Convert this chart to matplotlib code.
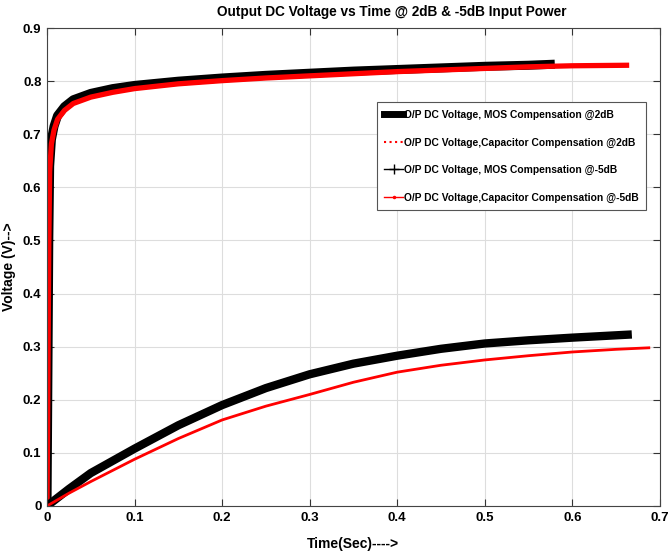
import matplotlib.pyplot as plt
from matplotlib.lines import Line2D

plt.rcParams['font.family'] = ['Liberation Sans', 'DejaVu Sans']
plt.rcParams['font.weight'] = 'bold'

# 2dB input power (s, V)
t_mos_2db = [0, 0.001, 0.002, 0.003, 0.005, 0.008, 0.012, 0.02, 0.03, 0.05,
             0.075, 0.1, 0.15, 0.2, 0.25, 0.3, 0.35, 0.4, 0.45, 0.5, 0.55, 0.58]
v_mos_2db = [0, 0.25, 0.5, 0.64, 0.69, 0.715, 0.735, 0.752, 0.765, 0.777,
             0.786, 0.792, 0.800, 0.806, 0.811, 0.815, 0.819, 0.822, 0.825, 0.828, 0.830, 0.832]
t_cap_2db = [0, 0.001, 0.002, 0.003, 0.005, 0.008, 0.012, 0.02, 0.03, 0.05,
             0.075, 0.1, 0.15, 0.2, 0.25, 0.3, 0.35, 0.4, 0.45, 0.5, 0.55, 0.6, 0.665]
v_cap_2db = [0, 0.24, 0.49, 0.63, 0.682, 0.708, 0.728, 0.745, 0.758, 0.770,
             0.779, 0.786, 0.795, 0.801, 0.806, 0.810, 0.814, 0.818, 0.821, 0.824, 0.827, 0.829, 0.830]

# -5dB input power
t_mos_5db = [0, 0.025, 0.05, 0.1, 0.15, 0.2, 0.25, 0.3, 0.35, 0.4, 0.45, 0.5,
             0.55, 0.6, 0.668]
v_mos_5db = [0, 0.032, 0.062, 0.108, 0.152, 0.19, 0.222, 0.248, 0.268, 0.283,
             0.296, 0.306, 0.312, 0.317, 0.323]
t_cap_5db = [0, 0.025, 0.05, 0.1, 0.15, 0.2, 0.25, 0.3, 0.35, 0.4, 0.45, 0.5,
             0.55, 0.6, 0.65, 0.689]
v_cap_5db = [0, 0.024, 0.046, 0.088, 0.127, 0.162, 0.188, 0.21, 0.233, 0.252,
             0.265, 0.275, 0.283, 0.29, 0.295, 0.298]

fig = plt.figure(figsize=(6.69, 5.57), dpi=100)
ax = fig.add_axes([0.0703, 0.0916, 0.916, 0.858])

ax.plot(t_mos_2db, v_mos_2db, color="black", lw=6.5, solid_capstyle="butt")
ax.plot(t_cap_2db, v_cap_2db, color="red", lw=3.8, solid_capstyle="butt")
ax.plot(t_mos_5db, v_mos_5db, color="black", lw=6, solid_capstyle="butt")
ax.plot(t_cap_5db, v_cap_5db, color="red", lw=2, solid_capstyle="butt")

ax.set_xlim(0, 0.7)
ax.set_ylim(0, 0.9)
ax.set_xticks([0, 0.1, 0.2, 0.3, 0.4, 0.5, 0.6, 0.7])
ax.set_xticklabels(["0", "0.1", "0.2", "0.3", "0.4", "0.5", "0.6", "0.7"])
ax.set_yticks([0, 0.1, 0.2, 0.3, 0.4, 0.5, 0.6, 0.7, 0.8, 0.9])
ax.set_yticklabels(["0", "0.1", "0.2", "0.3", "0.4", "0.5", "0.6", "0.7", "0.8", "0.9"])
ax.tick_params(direction="in", top=True, right=True, labelsize=9.5, length=5,
               color="#333333", width=0.8, pad=4)
ax.grid(True, color="#dddddd", lw=0.8)
for s in ax.spines.values():
    s.set_color("#444444")
    s.set_linewidth(0.8)

ax.set_title("Output DC Voltage vs Time @ 2dB & -5dB Input Power",
             fontsize=9.8, fontweight="bold", pad=9, x=0.562)
ax.set_xlabel("Time(Sec)---->", fontsize=10, fontweight="bold", labelpad=10)
ax.set_ylabel("Voltage (V)-->", fontsize=10, fontweight="bold")
ax.yaxis.set_label_coords(-0.05, 0.5)

handles = [
    Line2D([], [], color="black", lw=5),
    Line2D([], [], color="red", lw=1.5, ls=":"),
    Line2D([], [], color="black", lw=1, marker="+", markersize=7),
    Line2D([], [], color="red", lw=1, marker=".", markersize=3),
]
labels = [
    "O/P DC Voltage, MOS Compensation @2dB",
    "O/P DC Voltage,Capacitor Compensation @2dB",
    "O/P DC Voltage, MOS Compensation @-5dB",
    "O/P DC Voltage,Capacitor Compensation @-5dB",
]
leg = ax.legend(handles, labels, loc="upper left", bbox_to_anchor=(0.538, 0.845),
                fontsize=7.4, fancybox=False, handlelength=1.8, handletextpad=0.1,
                labelspacing=1.7, borderpad=0.75, borderaxespad=0)
leg.get_frame().set_edgecolor("#555555")
leg.get_frame().set_linewidth(0.8)
leg.get_frame().set_alpha(1)

fig.savefig("out.png", dpi=100)
